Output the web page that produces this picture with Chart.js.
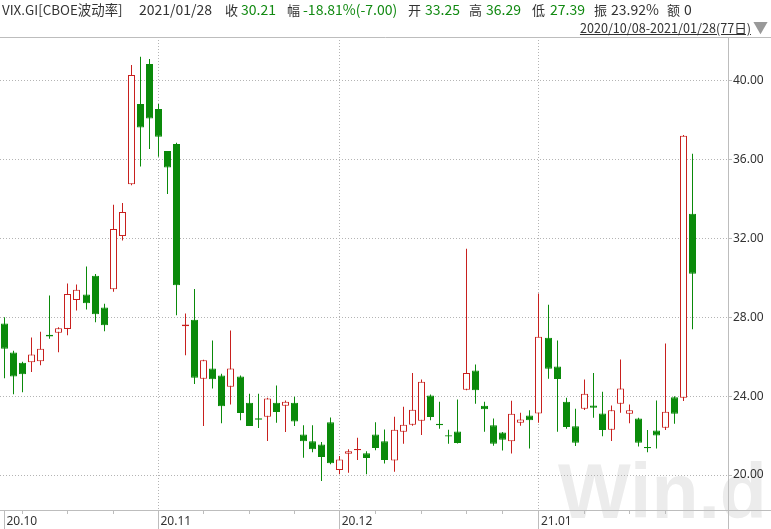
<!DOCTYPE html>
<html>
<head>
<meta charset="utf-8">
<script src="https://cdn.jsdelivr.net/npm/chart.js@4.4.1/dist/chart.umd.min.js"></script>
<style>
  html, body { margin: 0; padding: 0; background: #fff; }
  #wrap { position: relative; width: 771px; height: 529px; overflow: hidden;
          font-family: "Noto Sans CJK SC", "Noto Sans", sans-serif; color: #333; }
  #chart { position: absolute; left: 0; top: 0; }
  .h { position: absolute; top: 0; font-size: 14px; line-height: 18px; white-space: nowrap; }
  .c { font-size: 13px; top: 1px; }
  .g { color: #128a12; }
  #range { position: absolute; right: 20px; top: 20px; font-size: 12.6px; line-height: 16px;
           text-decoration: underline; white-space: nowrap; }
  #tri { position: absolute; left: 753px; top: 19px; font-size: 15px; line-height: 16px; color: #999; }
</style>
</head>
<body>
<div id="wrap">
  <canvas id="chart" width="771" height="529"></canvas>
  <span class="h" style="left:2px;font-size:13.4px">VIX.GI[CBOE波动率]</span>
  <span class="h" style="left:139px">2021/01/28</span>
  <span class="h c" style="left:225px">收</span><span class="h g" style="left:241px">30.21</span>
  <span class="h c" style="left:287px">幅</span><span class="h g" style="left:303px">-18.81%(-7.00)</span>
  <span class="h c" style="left:408px">开</span><span class="h g" style="left:425px">33.25</span>
  <span class="h c" style="left:469px">高</span><span class="h g" style="left:486px">36.29</span>
  <span class="h c" style="left:532px">低</span><span class="h g" style="left:550px">27.39</span>
  <span class="h c" style="left:594px">振</span><span class="h" style="left:611px">23.92%</span>
  <span class="h c" style="left:667px">额</span><span class="h" style="left:684px">0</span>
  <div id="range">2020/10/08-2021/01/28(77日)</div>
  <div id="tri">▼</div>
</div>
<script>
// ---- daily candles, VIX.GI, 2020/10/08 .. 2021/01/28 (77 days) ----
const opens = [
  27.68, 26.21, 25.69, 25.72, 25.77, 27.12, 27.21, 27.41, 28.88, 29.15,
  30.11, 28.49, 29.42, 32.12, 34.75, 38.82, 40.85, 38.57, 36.44, 36.79,
  27.55, 27.88, 24.88, 25.40, 25.05, 24.48, 25.00, 23.67, 22.88, 22.96,
  23.67, 23.51, 23.67, 22.06, 21.71, 21.55, 22.67, 20.25, 21.08, 21.26,
  21.10, 22.06, 21.71, 20.73, 22.20, 22.55, 22.75, 24.03, 22.60, 22.02,
  22.21, 24.32, 25.30, 23.51, 22.52, 22.16, 21.71, 22.65, 23.02, 23.12,
  26.96, 25.50, 23.72, 22.47, 23.36, 23.53, 23.12, 22.30, 23.61, 23.11,
  22.87, 21.42, 22.26, 22.40, 23.95, 23.92, 33.25
];
const highs = [
  28.00, 26.30, 25.75, 26.97, 27.26, 29.10, 27.50, 29.71, 29.66, 30.57,
  30.20, 28.68, 33.71, 33.79, 40.79, 41.22, 41.10, 38.82, 36.44, 36.85,
  28.19, 29.44, 25.85, 26.82, 25.13, 27.33, 25.05, 24.12, 24.12, 23.92,
  24.54, 23.78, 23.97, 22.52, 22.52, 21.67, 22.92, 20.96, 21.30, 21.89,
  21.21, 22.67, 22.31, 22.96, 23.46, 25.18, 24.85, 24.08, 23.72, 22.30,
  23.83, 31.48, 25.60, 23.72, 22.86, 22.18, 23.77, 23.16, 23.28, 29.20,
  28.64, 26.82, 23.92, 23.36, 24.85, 25.18, 24.22, 23.53, 25.86, 23.58,
  22.90, 22.28, 23.78, 26.67, 24.00, 37.25, 36.29
];
const lows = [
  24.91, 24.10, 24.20, 25.22, 25.57, 26.91, 26.23, 27.09, 28.35, 28.39,
  27.75, 27.29, 29.29, 31.90, 34.70, 35.65, 36.54, 36.14, 34.25, 28.10,
  26.08, 24.61, 22.48, 24.39, 22.62, 23.58, 22.78, 22.48, 22.38, 21.72,
  22.65, 22.18, 22.48, 20.88, 21.16, 19.70, 20.55, 20.04, 20.12, 20.76,
  20.04, 21.25, 20.58, 20.17, 21.59, 22.50, 22.03, 22.78, 22.35, 21.59,
  21.60, 24.30, 23.61, 22.20, 21.49, 21.24, 21.09, 22.50, 21.34, 22.65,
  24.88, 22.20, 22.35, 21.47, 23.30, 22.91, 21.97, 21.72, 23.16, 22.62,
  21.44, 21.16, 21.34, 22.28, 22.60, 23.75, 27.39
];
const closes = [
  26.40, 25.00, 25.11, 26.11, 26.40, 27.02, 27.44, 29.18, 29.39, 28.71,
  28.15, 27.60, 32.48, 33.34, 40.29, 37.62, 38.08, 37.16, 35.60, 29.62,
  27.63, 24.93, 25.82, 24.86, 23.49, 25.40, 23.14, 22.48, 22.80, 23.88,
  23.19, 23.72, 22.72, 21.71, 21.30, 20.91, 20.59, 20.79, 21.20, 21.32,
  20.86, 21.37, 20.76, 22.30, 22.55, 23.31, 24.73, 22.94, 22.52, 21.95,
  21.62, 25.18, 24.30, 23.34, 21.58, 21.79, 23.11, 22.81, 22.78, 27.01,
  25.39, 24.87, 22.43, 21.64, 24.12, 23.41, 22.28, 23.28, 24.39, 23.28,
  21.64, 21.36, 22.01, 23.21, 23.11, 37.21, 30.21
];

// week-start ticks (index into the 77 days) and month starts with labels
const weekTicks   = [0, 2, 7, 12, 17, 22, 27, 32, 37, 41, 46, 51, 55, 59, 64, 69, 73];
const monthStarts = [0, 17, 37, 59];
const monthLabels = ['20.10', '20.11', '20.12', '21.01'];
const yTicks      = [20, 24, 28, 32, 36, 40];

const RED   = '#c8201e';
const GREEN = '#0a8a0a';
const LINE  = '#bdbdbd';

const isUp = closes.map((c, i) => c >= opens[i]);
const bodies = opens.map((o, i) => ({ x: i, y: [o, closes[i]] }));
const wicks  = lows.map((l, i) => ({ x: i, y: [l, highs[i]] }));

// snap candle centres onto half pixels so 1px wicks stay crisp
const snapPlugin = {
  id: 'snap',
  afterDatasetsUpdate(chart) {
    chart.data.datasets.forEach((ds, di) => {
      chart.getDatasetMeta(di).data.forEach(el => { el.x = Math.floor(el.x) + 0.5; });
    });
  }
};

const framePlugin = {
  id: 'frame',
  beforeDraw(chart) {
    const ctx = chart.ctx;
    ctx.save();
    ctx.fillStyle = '#ececec';
    ctx.font = 'bold 77px "Liberation Sans", Arial, sans-serif';
    ctx.textBaseline = 'alphabetic';
    ctx.fillText('Win.d', 558, 518);
    ctx.restore();
  },
  afterDraw(chart) {
    const ctx = chart.ctx;
    const x = chart.scales.x;
    const a = chart.chartArea;
    ctx.save();
    ctx.strokeStyle = LINE;
    ctx.lineWidth = 1;
    ctx.beginPath();
    ctx.moveTo(0, a.top + 0.5);          ctx.lineTo(771, a.top + 0.5);
    ctx.moveTo(a.right, a.bottom + 0.5); ctx.lineTo(771, a.bottom + 0.5);
    ctx.moveTo(Math.round(a.right) + 0.5, a.top); ctx.lineTo(Math.round(a.right) + 0.5, 529);
    monthStarts.forEach(m => {
      const px = Math.floor(x.getPixelForValue(m)) + 0.5;
      ctx.moveTo(px, a.bottom); ctx.lineTo(px, 529);
    });
    ctx.stroke();
    ctx.restore();
  }
};

new Chart(document.getElementById('chart'), {
  type: 'bar',
  data: {
    datasets: [
      {
        label: 'body',
        data: bodies,
        order: 0,
        grouped: false,
        barPercentage: 1,
        categoryPercentage: 1,
        maxBarThickness: 7,
        inflateAmount: 0,
        borderSkipped: false,
        borderWidth: 1,
        backgroundColor: isUp.map(u => u ? '#ffffff' : GREEN),
        borderColor: isUp.map(u => u ? RED : GREEN)
      },
      {
        label: 'wick',
        data: wicks,
        order: 1,
        grouped: false,
        barPercentage: 1,
        categoryPercentage: 1,
        maxBarThickness: 1,
        inflateAmount: 0,
        borderWidth: 0,
        backgroundColor: isUp.map(u => u ? RED : GREEN)
      }
    ]
  },
  options: {
    responsive: false,
    animation: false,
    layout: { padding: { top: 37, left: 0, right: 0, bottom: 0 } },
    plugins: { legend: { display: false }, tooltip: { enabled: false } },
    scales: {
      x: {
        type: 'linear',
        offset: false,
        min: -0.497,
        max: 79.87,
        afterFit: s => { s.height = 19; },
        afterBuildTicks: s => { s.ticks = weekTicks.map(v => ({ value: v })); },
        ticks: {
          autoSkip: false,
          maxRotation: 0,
          align: 'start',
          labelOffset: 2,
          padding: 0,
          color: '#333',
          font: { family: 'Noto Sans', size: 12 },
          callback: v => {
            const k = monthStarts.indexOf(v);
            return k >= 0 ? monthLabels[k] : '';
          }
        },
        grid: {
          offset: false,
          color: c => (c.tick && monthStarts.indexOf(c.tick.value) > 0) ? '#b4b4b4' : 'rgba(0,0,0,0)',
          tickColor: LINE,
          tickLength: 4,
          tickBorderDash: []
        },
        border: { color: LINE, dash: [1, 2] }
      },
      y: {
        position: 'right',
        min: 18.225,
        max: 42.216,
        afterFit: s => { s.width = 43; },
        afterBuildTicks: s => { s.ticks = yTicks.map(v => ({ value: v })); },
        ticks: {
          padding: 1,
          color: '#333',
          font: { family: 'Noto Sans', size: 12 },
          callback: v => v.toFixed(2)
        },
        grid: {
          color: '#b4b4b4',
          tickColor: LINE,
          tickLength: 4,
          tickBorderDash: []
        },
        border: { color: LINE, dash: [1, 2] }
      }
    }
  },
  plugins: [snapPlugin, framePlugin]
});
</script>
</body>
</html>
